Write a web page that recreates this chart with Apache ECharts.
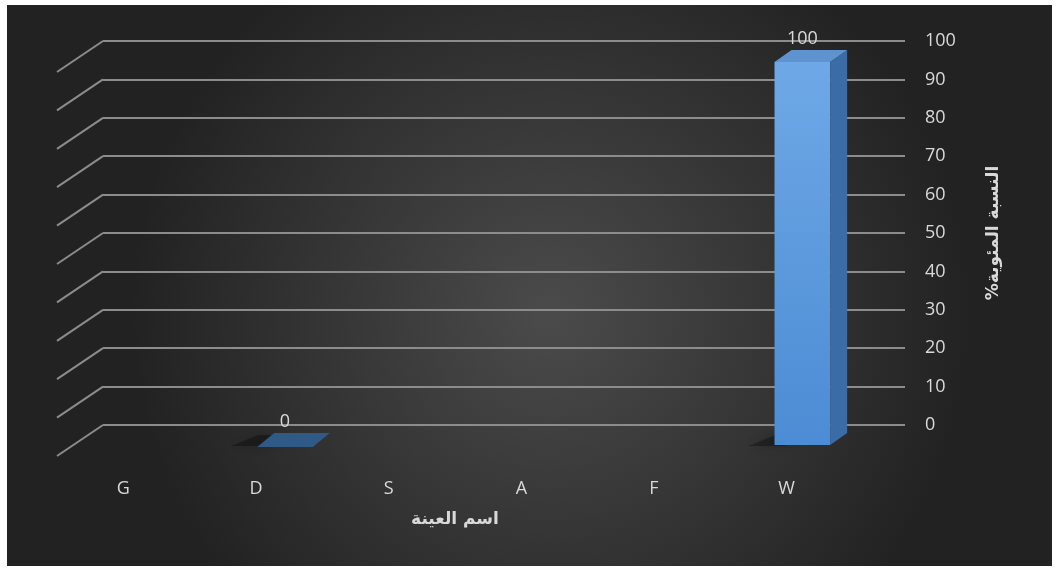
<!DOCTYPE html>
<html><head><meta charset="utf-8">
<script src="https://cdn.jsdelivr.net/npm/echarts@6/dist/echarts.min.js"></script>
<style>html,body{margin:0;padding:0;background:#fff}#c{width:1060px;height:570px}</style>
</head><body><div id="c"></div>
<script>
const categories = ['G', 'D', 'S', 'A', 'F', 'W'];
const values = [null, 0, null, null, null, 100];
const yTicks = [0, 10, 20, 30, 40, 50, 60, 70, 80, 90, 100];
const xTitle = 'اسم العينة';
// visual order for rotated canvas text (percent sign at the reading end)
const yTitle = '%النسبة المئوية';

const chart = echarts.init(document.getElementById('c'));
const labelColor = '#d9d9d9';
const gridColor = '#8c8c8c';
const DEPTH_X = 17, DEPTH_Y = -12;

function barItem(params, api) {
  const v = api.value(1);
  if (v === null || isNaN(v)) return null;
  const top = api.coord([api.value(0), v]);
  const base = api.coord([api.value(0), 0]);
  const w = api.size([1, 0])[0] * 0.43;
  const x0 = top[0] - w / 2, x1 = top[0] + w / 2;
  const yt = top[1], yb = base[1];
  const children = [];
  children.push({type: 'polygon', shape: {points: [[x0 - 26, yb + 1], [x0 + 10, yb + 1], [x0 + 10 + DEPTH_X, yb + DEPTH_Y + 2], [x0 - 16 + DEPTH_X, yb + DEPTH_Y + 2]]},
    style: {fill: 'rgba(0,0,0,0.3)', shadowBlur: 12, shadowColor: 'rgba(0,0,0,0.7)'}, z2: 1});
  if (yb - yt > 0.5) {
    children.push({type: 'rect', shape: {x: x0, y: yt, width: w, height: yb - yt},
      style: {fill: new echarts.graphic.LinearGradient(0, 0, 0, 1, [{offset: 0, color: '#6ea8e6'}, {offset: 1, color: '#4c8cd4'}])}, z2: 3});
    children.push({type: 'polygon', shape: {points: [[x1, yt], [x1 + DEPTH_X, yt + DEPTH_Y], [x1 + DEPTH_X, yb + DEPTH_Y], [x1, yb]]},
      style: {fill: '#3b6ca6'}, z2: 3});
    children.push({type: 'polygon', shape: {points: [[x0, yt], [x1, yt], [x1 + DEPTH_X, yt + DEPTH_Y], [x0 + DEPTH_X, yt + DEPTH_Y]]},
      style: {fill: '#5e93cf'}, z2: 3});
  } else {
    children.push({type: 'polygon', shape: {points: [[x0, yb + 2], [x1, yb + 2], [x1 + DEPTH_X, yb + DEPTH_Y], [x0 + DEPTH_X, yb + DEPTH_Y]]},
      style: {fill: '#2f5a86'}, z2: 3});
  }
  children.push({type: 'text', style: {text: String(v), x: top[0], y: yt + DEPTH_Y - 2, fill: labelColor,
    font: '18px "Open Sans", sans-serif', align: 'center', verticalAlign: 'bottom'}, z2: 4});
  return {type: 'group', children: children};
}

function diagItem(params, api) {
  const v = api.value(0);
  const y = api.coord([0, v])[1];
  const x = params.coordSys.x;
  return {type: 'line', shape: {x1: x, y1: y, x2: x - 46, y2: y + 31},
    style: {stroke: gridColor, lineWidth: 2}};
}

chart.setOption({
  animation: false,
  graphic: [{type: 'rect', left: 7, top: 5, shape: {width: 1045, height: 561}, z: -10,
    style: {fill: new echarts.graphic.RadialGradient(0.52, 0.55, 0.75, [{offset: 0, color: '#4b4b4b'}, {offset: 1, color: '#222222'}])}}],
  grid: [
    {left: 103, right: 155, top: 41, bottom: 145},
    {left: 91, right: 193, top: 62, bottom: 125},
    {left: 57, right: 207, top: 62, bottom: 100}
  ],
  xAxis: [
    {gridIndex: 0, type: 'value', min: 0, max: 1, show: false},
    {gridIndex: 1, type: 'category', data: categories, show: false},
    {gridIndex: 2, type: 'category', data: categories, axisLine: {show: false}, axisTick: {show: false},
      axisLabel: {color: labelColor, fontSize: 18, margin: 10, fontFamily: 'Open Sans'},
      name: xTitle, nameLocation: 'middle', nameGap: 41,
      nameTextStyle: {color: labelColor, fontSize: 17, fontWeight: 'bold', fontFamily: 'DejaVu Sans'}}
  ],
  yAxis: [
    {gridIndex: 0, type: 'value', position: 'right', min: 0, max: 100, interval: 10,
      axisLine: {show: false}, axisTick: {show: false},
      axisLabel: {color: labelColor, fontSize: 18, margin: 20, fontFamily: 'Open Sans'},
      splitLine: {lineStyle: {color: gridColor, width: 2}},
      name: yTitle, nameLocation: 'middle', nameGap: 80, nameRotate: 90,
      nameTextStyle: {color: labelColor, fontSize: 17, fontWeight: 'bold', fontFamily: 'DejaVu Sans'}},
    {gridIndex: 1, type: 'value', min: 0, max: 100, show: false},
    {gridIndex: 2, type: 'value', min: 0, max: 100, show: false}
  ],
  series: [
    {type: 'custom', xAxisIndex: 0, yAxisIndex: 0, data: yTicks.map(v => [v]), renderItem: diagItem, silent: true},
    {type: 'custom', xAxisIndex: 1, yAxisIndex: 1, data: categories.map((c, i) => [i, values[i] === null ? '-' : values[i]]), renderItem: barItem, z: 5}
  ]
});
</script></body></html>
